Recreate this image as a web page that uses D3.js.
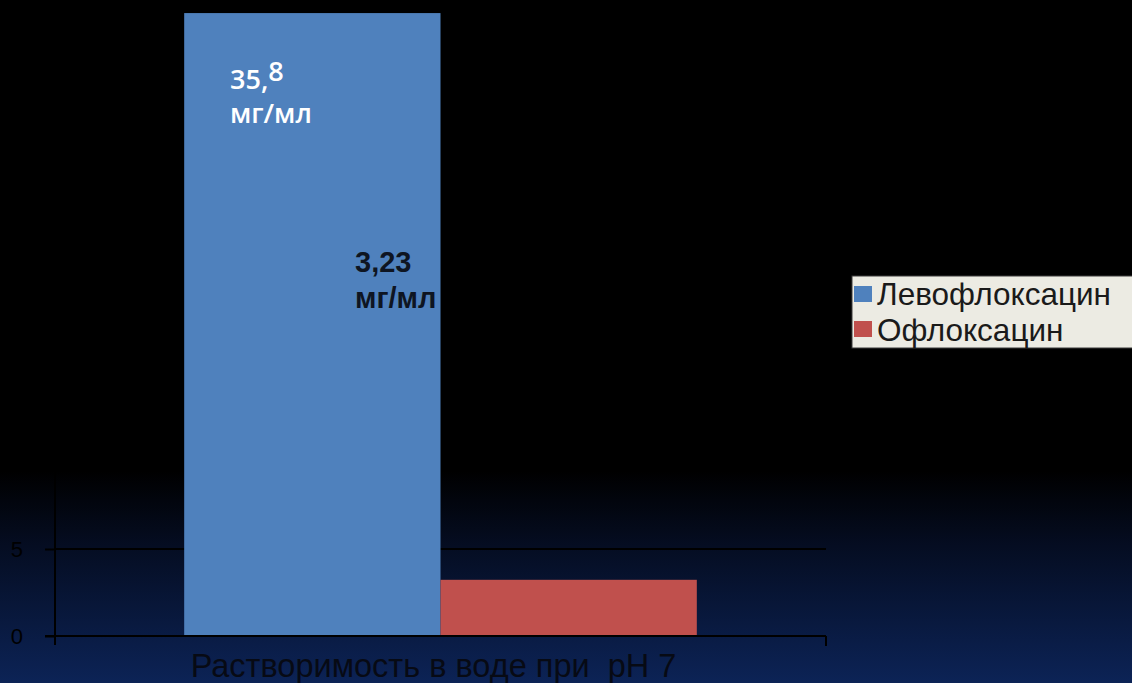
<!DOCTYPE html>
<html><head><meta charset="utf-8">
<script src="https://cdn.jsdelivr.net/npm/d3@7"></script>
<style>html,body{margin:0;padding:0;background:#000;overflow:hidden}</style>
</head><body>
<svg id="c" width="1132" height="683"></svg>
<script>
const categories = ["Растворимость в воде при  pH 7"];
const seriesNames = ["Левофлоксацин", "Офлоксацин"];
const seriesValues = [35.8, 3.23];
const valueLabels = [["35,", "8", "мг/мл"], ["3,23", "", "мг/мл"]];
const yTicks = [0, 5, 10, 15, 20, 25, 30, 35, 40];
const colors = ["#4f81bd", "#c0504d"];

const svg = d3.select("#c");
const W = 1132, H = 683;
const defs = svg.append("defs");
const g = defs.append("linearGradient").attr("id","bg").attr("x1",0).attr("y1",0).attr("x2",0).attr("y2",1);
g.append("stop").attr("offset","0").attr("stop-color","#000");
g.append("stop").attr("offset","0.69").attr("stop-color","#000");
g.append("stop").attr("offset","0.80").attr("stop-color","#050d22");
g.append("stop").attr("offset","1").attr("stop-color","#0c2356");
svg.append("rect").attr("width",W).attr("height",H).attr("fill","url(#bg)");

const x0 = 55, x1 = 826, yBase = 636, pxPer5 = 87;
const y = d3.scaleLinear().domain([0, 40]).range([yBase, yBase - 8 * pxPer5]);
const x = d3.scaleBand().domain(categories).range([x0, x1]).paddingInner(0).paddingOuter(0.252);
const xs = d3.scaleBand().domain(seriesNames).range([0, x.bandwidth()]);

// gridlines
svg.append("g").selectAll("line").data(yTicks.filter(d => d > 0)).join("line")
  .attr("x1", x0).attr("x2", x1).attr("y1", d => y(d)).attr("y2", d => y(d))
  .attr("stroke", "#000").attr("stroke-width", 2);

// bars
const bars = svg.append("g");
seriesNames.forEach((s, i) => {
  bars.append("rect")
    .attr("x", x(categories[0]) + xs(s)).attr("width", xs.bandwidth())
    .attr("y", y(seriesValues[i])).attr("height", yBase - y(seriesValues[i]))
    .attr("fill", colors[i]);
});

// axes
const yAxis = d3.axisLeft(y).tickValues(yTicks.filter(d => y(d) > 20)).tickSize(10).tickPadding(22);
const ya = svg.append("g").attr("transform", `translate(${x0},0)`).call(yAxis);
ya.select(".domain").remove();
ya.selectAll(".tick line").attr("stroke", "#000").attr("stroke-width", 2);
ya.selectAll(".tick text").attr("fill", "#000").attr("font-family", "Liberation Sans, Arial, sans-serif").attr("font-size", 22);
svg.append("line").attr("x1", x0).attr("x2", x0).attr("y1", 0).attr("y2", yBase + 9).attr("stroke", "#000").attr("stroke-width", 2);
svg.append("line").attr("x1", x0 - 10).attr("x2", x1).attr("y1", yBase).attr("y2", yBase).attr("stroke", "#000").attr("stroke-width", 2);
svg.append("line").attr("x1", x1).attr("x2", x1).attr("y1", yBase).attr("y2", yBase + 10).attr("stroke", "#000").attr("stroke-width", 2);

svg.append("text").attr("x", x(categories[0]) + x.bandwidth()/2 - 7).attr("y", 677)
  .attr("text-anchor", "middle").attr("fill", "#070a14")
  .attr("font-family", "Liberation Sans, Arial, sans-serif").attr("font-size", 32.5)
  .attr("xml:space", "preserve").style("white-space", "pre")
  .text(categories[0]);

// value labels
const l1 = svg.append("text").attr("x", 230).attr("y", 89).attr("fill", "#fff")
  .attr("font-family", "Open Sans, sans-serif").attr("font-weight", 600).attr("font-size", 27);
l1.append("tspan").text(valueLabels[0][0]);
l1.append("tspan").attr("dy", -8).text(valueLabels[0][1]);
svg.append("text").attr("x", 230).attr("y", 123).attr("fill", "#fff")
  .attr("font-family", "Open Sans, sans-serif").attr("font-weight", 600).attr("font-size", 27)
  .text(valueLabels[0][2]);

svg.append("clipPath").attr("id", "barclip").append("rect")
  .attr("x", x(categories[0])).attr("y", 0).attr("width", xs.bandwidth()).attr("height", H);
const l2 = svg.append("g").attr("clip-path", "url(#barclip)");
l2.append("text").attr("x", 355).attr("y", 272).attr("fill", "#0e1522")
  .attr("font-family", "Liberation Sans, Arial, sans-serif").attr("font-weight", 700).attr("font-size", 29)
  .text(valueLabels[1][0]);
l2.append("text").attr("x", 355).attr("y", 308).attr("fill", "#0e1522")
  .attr("font-family", "Liberation Sans, Arial, sans-serif").attr("font-weight", 700).attr("font-size", 29)
  .text(valueLabels[1][2]);

// legend
const lg = svg.append("g").attr("transform", "translate(852,276)");
lg.append("rect").attr("x", 0).attr("y", 0).attr("width", 300).attr("height", 72)
  .attr("fill", "#ecebe3").attr("stroke", "#3a3a3a").attr("stroke-width", 1);
seriesNames.forEach((s, i) => {
  lg.append("rect").attr("x", 2).attr("y", 10 + i * 35).attr("width", 18).attr("height", 16).attr("fill", colors[i]);
  lg.append("text").attr("x", 25).attr("y", 29 + i * 36).attr("fill", "#1a1a1a")
    .attr("font-family", "Liberation Sans, Arial, sans-serif").attr("font-size", 31.5).text(s);
});
</script>
</body></html>
